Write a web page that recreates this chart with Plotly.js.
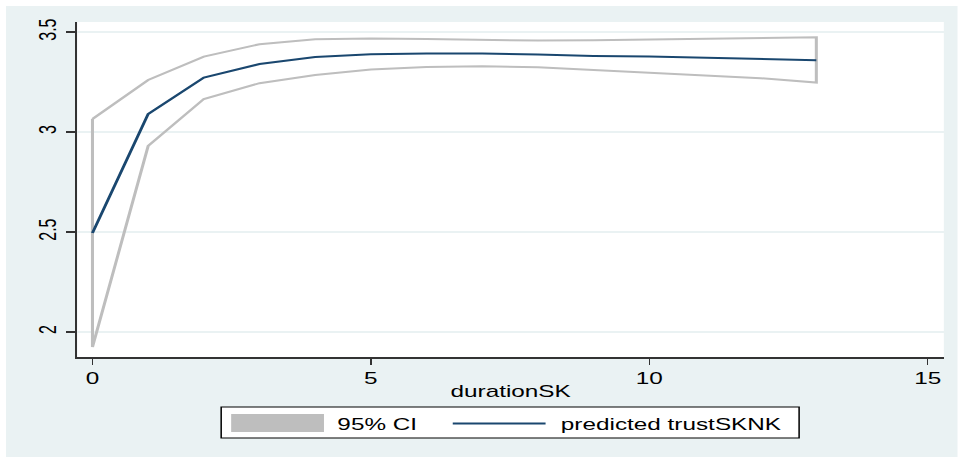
<!DOCTYPE html>
<html>
<head>
<meta charset="utf-8">
<script src="https://cdn.plot.ly/plotly-3.0.1.min.js"></script>
<style>
  html, body { margin: 0; padding: 0; background: #ffffff; width: 958px; height: 457px; overflow: hidden; }
  #chart { position: absolute; left: 6px; top: 6px; transform-origin: 0 0; }
</style>
</head>
<body>
<div id="chart"></div>
<script>
// ---- data ----
const durationSK = [0, 1, 2, 3, 4, 5, 6, 7, 8, 9, 10, 11, 12, 13];
const predicted  = [2.495, 3.09, 3.272, 3.34, 3.375, 3.389, 3.392, 3.392, 3.387, 3.38, 3.377, 3.37, 3.365, 3.359];
const ciUpper    = [3.065, 3.26, 3.377, 3.439, 3.464, 3.467, 3.465, 3.46, 3.457, 3.459, 3.462, 3.467, 3.47, 3.474];
const ciLower    = [1.925, 2.93, 3.165, 3.244, 3.285, 3.312, 3.325, 3.329, 3.324, 3.31, 3.297, 3.282, 3.269, 3.247];
const yTicks     = [2, 2.5, 3, 3.5];
const yTickText  = ["2", "2.5", "3", "3.5"];
const xTicks     = [0, 5, 10, 15];
const legendCI   = "95% CI";
const legendPred = "predicted trustSKNK";
const xTitle     = "durationSK";

// ---- geometry (the reference image is horizontally stretched) ----
const S = 1.52;              // horizontal stretch
const W = 952 / S, H = 451;
const L = (77 - 6) / S, R = W - (945 - 6) / S, T = 16, B = 100;
const PW = W - L - R, PH = H - T - B;
const px = xi => ((xi - 6) / S - L) / PW;       // image x -> paper x
const py = yi => ((H - B) - (yi - 6)) / PH;     // image y -> paper y

const el = document.getElementById('chart');
el.style.width = W + 'px';
el.style.height = H + 'px';
el.style.transform = 'scaleX(' + S + ')';

const font = 'Liberation Sans, Arial, Helvetica, sans-serif';
const navy = '#1a476f', gray = '#bebebe', bg = '#eaf2f3';

const ciX = durationSK.concat(durationSK.slice().reverse(), [durationSK[0]]);
const ciY = ciUpper.concat(ciLower.slice().reverse(), [ciUpper[0]]);

const traces = [
  { x: ciX, y: ciY, type: 'scatter', mode: 'lines', name: legendCI,
    line: { color: gray, width: 2 }, showlegend: false, hoverinfo: 'skip' },
  { x: durationSK, y: predicted, type: 'scatter', mode: 'lines', name: legendPred,
    line: { color: navy, width: 2 }, showlegend: false }
];

const layout = {
  width: W, height: H,
  margin: { l: L, r: R, t: T, b: B, pad: 0 },
  paper_bgcolor: bg, plot_bgcolor: '#ffffff',
  font: { family: font, size: 16, color: '#000000' },
  xaxis: {
    range: [-0.27, 15.29], tickvals: xTicks, ticktext: xTicks.map(String),
    showgrid: false, zeroline: false, showline: true, linecolor: '#333333', linewidth: 1.5,
    ticks: 'outside', ticklen: 6, tickwidth: 1, tickcolor: '#333333',
    tickfont: { size: 16 },
    title: { text: xTitle, font: { size: 16 }, standoff: 0 }
  },
  yaxis: {
    range: [1.875, 3.55], tickvals: yTicks, ticktext: yTickText, tickangle: -90,
    showgrid: true, gridcolor: bg, gridwidth: 1.5,
    zeroline: false, showline: true, linecolor: '#333333', linewidth: 1.3,
    ticks: 'outside', ticklen: 6.5, tickwidth: 1.5, tickcolor: '#333333',
    tickfont: { size: 16 }
  },
  shapes: [
    { type: 'rect', xref: 'paper', yref: 'paper', x0: px(221), x1: px(800), y0: py(438), y1: py(407),
      line: { color: '#000000', width: 1 }, fillcolor: '#ffffff', layer: 'above' },
    { type: 'rect', xref: 'paper', yref: 'paper', x0: px(231), x1: px(324), y0: py(432), y1: py(414),
      line: { width: 0 }, fillcolor: gray, layer: 'above' },
    { type: 'line', xref: 'paper', yref: 'paper', x0: px(453), x1: px(546), y0: py(423.5), y1: py(423.5),
      line: { color: navy, width: 2 }, layer: 'above' }
  ],
  annotations: [
    { xref: 'paper', yref: 'paper', x: px(335), y: py(424), text: legendCI, showarrow: false,
      xanchor: 'left', yanchor: 'middle', font: { size: 16 } },
    { xref: 'paper', yref: 'paper', x: px(558), y: py(424), text: legendPred, showarrow: false,
      xanchor: 'left', yanchor: 'middle', font: { size: 16 } }
  ]
};

Plotly.newPlot(el, traces, layout, { displayModeBar: false, staticPlot: true });
</script>
</body>
</html>
